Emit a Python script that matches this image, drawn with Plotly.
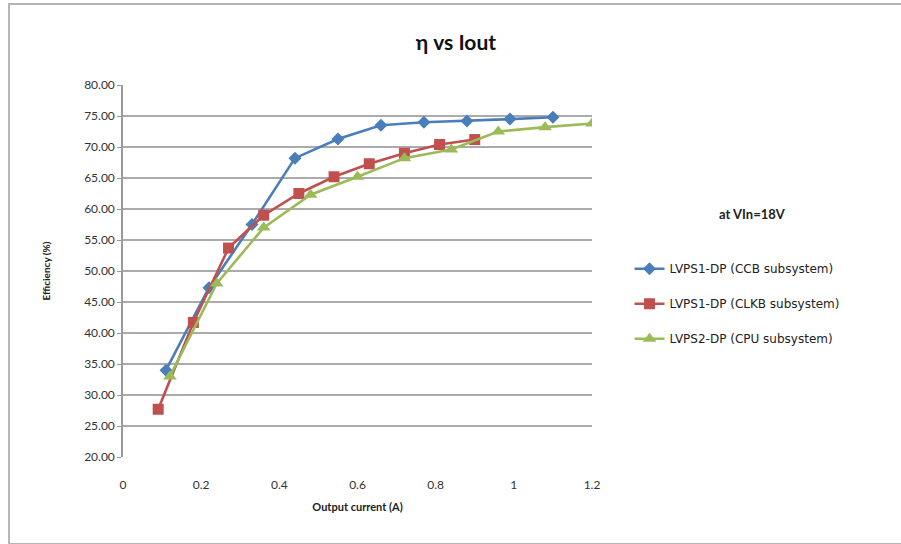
import plotly.graph_objects as go

# Output current (A) and efficiency (%) for each supply
ccb_current = [0.11, 0.22, 0.33, 0.44, 0.55, 0.66, 0.77, 0.88, 0.99, 1.10]
ccb_eff = [34.0, 47.3, 57.5, 68.2, 71.3, 73.5, 74.0, 74.2, 74.5, 74.8]

clkb_current = [0.09, 0.18, 0.27, 0.36, 0.45, 0.54, 0.63, 0.72, 0.81, 0.90]
clkb_eff = [27.7, 41.7, 53.7, 59.0, 62.5, 65.2, 67.3, 69.0, 70.4, 71.2]

cpu_current = [0.12, 0.24, 0.36, 0.48, 0.60, 0.72, 0.84, 0.96, 1.08, 1.20]
cpu_eff = [33.0, 48.0, 57.0, 62.3, 65.2, 68.2, 69.6, 72.5, 73.2, 73.8]

series_names = [
    "LVPS1-DP (CCB subsystem)",
    "LVPS1-DP (CLKB subsystem)",
    "LVPS2-DP (CPU subsystem)",
]
y_ticks = [20, 25, 30, 35, 40, 45, 50, 55, 60, 65, 70, 75, 80]
x_ticks = [0, 0.2, 0.4, 0.6, 0.8, 1, 1.2]

FONT = "Lato, 'Open Sans', sans-serif"
LEGEND_FONT = "'DejaVu Sans', sans-serif"

fig = go.Figure()
styles = [
    ("#4A7EBB", "diamond", 10),
    ("#C0504D", "square", 11),
    ("#9BBB59", "triangle-up", 12),
]
data = [(ccb_current, ccb_eff), (clkb_current, clkb_eff), (cpu_current, cpu_eff)]
for i, ((xs, ys), name, (color, symbol, size)) in enumerate(zip(data, series_names, styles)):
    fig.add_trace(go.Scatter(
        x=xs, y=ys, name=name, mode="lines+markers",
        line=dict(color=color, width=2.6),
        marker=dict(symbol=symbol, size=size, color=color),
        legendgroup=f"g{i}",
    ))

fig.update_layout(
    width=901, height=544,
    margin=dict(l=123, r=309, t=85, b=87),
    paper_bgcolor="white", plot_bgcolor="white",
    font=dict(family=FONT, size=11, color="#222222"),
    title=dict(text="<b>η vs Iout</b>", x=0.506, xanchor="center",
               y=0.922, yanchor="middle",
               font=dict(family=FONT, size=21, color="#111111")),
    showlegend=True,
    legend=dict(
        x=1.08, xanchor="left", y=0.545, yanchor="top",
        font=dict(family=LEGEND_FONT, size=12, color="#222222"),
        tracegroupgap=16, bgcolor="rgba(0,0,0,0)",
    ),
    xaxis=dict(
        range=[0, 1.2], tickvals=x_ticks, ticktext=[str(v) for v in x_ticks],
        showgrid=False, zeroline=False, showline=False, ticks="",
        ticklabelstandoff=19,
        title=dict(text="<b>Output current (A)</b>", standoff=12,
                   font=dict(family=FONT, size=11, color="#222222")),
        tickfont=dict(size=12, color="#333333"),
    ),
    yaxis=dict(
        range=[20, 80], tickvals=y_ticks, tickformat=".2f",
        showgrid=True, gridcolor="#ababab", gridwidth=1.5,
        zeroline=False, showline=True, linecolor="#9a9a9a", linewidth=1.5,
        ticks="outside", ticklen=4, tickcolor="#9a9a9a",
        title=dict(text="<b>Efficiency (%)</b>", standoff=32,
                   font=dict(family=FONT, size=10, color="#222222")),
        tickfont=dict(size=12, color="#333333"),
    ),
    annotations=[dict(
        text="<b>at VIn=18V</b>", xref="paper", yref="paper",
        x=1.342, y=0.652, xanchor="center", yanchor="middle",
        showarrow=False, font=dict(family=FONT, size=13, color="#222222"),
    )],
    shapes=[dict(
        type="rect", xref="paper", yref="paper",
        x0=-0.243, x1=1.85, y0=-0.234, y1=1.218,
        line=dict(color="#b5b5b5", width=2), fillcolor="rgba(0,0,0,0)",
        layer="below",
    )],
)

fig.write_html("out.html")
